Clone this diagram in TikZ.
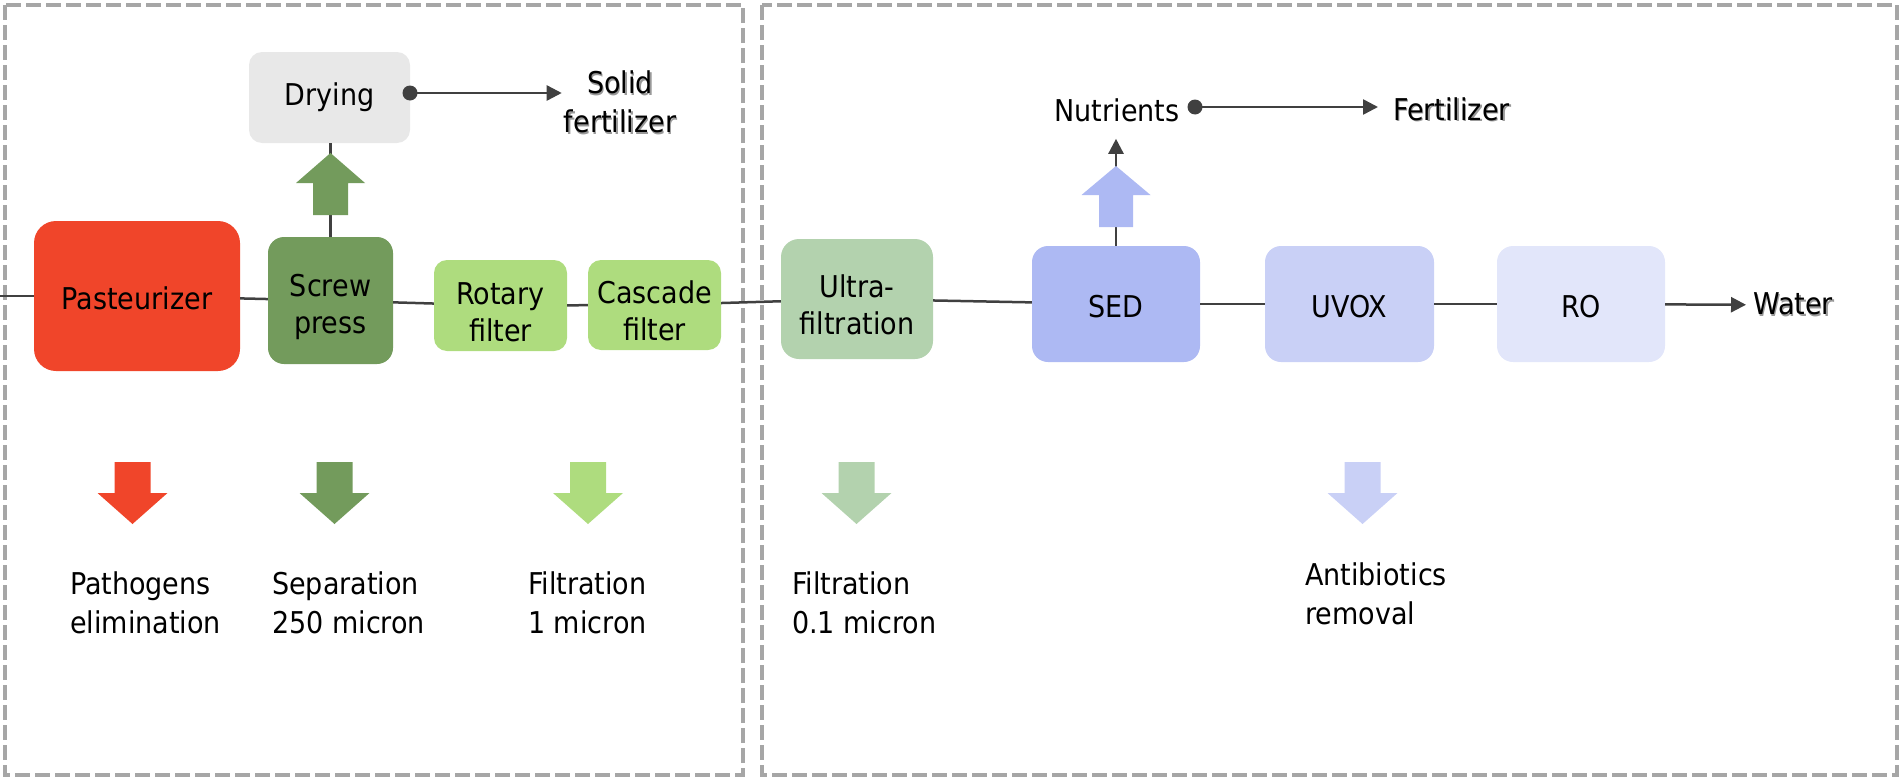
\documentclass[tikz,border=0pt]{standalone}
\usepackage{fontspec}
\setmainfont{DejaVu Sans Condensed}
\usetikzlibrary{arrows.meta}
\definecolor{cpast}{HTML}{F0452A}
\definecolor{cscrew}{HTML}{739B5C}
\definecolor{cfilt}{HTML}{AEDC7E}
\definecolor{cdry}{HTML}{E8E8E8}
\definecolor{cultra}{HTML}{B3D2AE}
\definecolor{csed}{HTML}{ADB9F3}
\definecolor{cuvox}{HTML}{C9D0F6}
\definecolor{cro}{HTML}{E2E6FA}
\definecolor{cframe}{HTML}{A6A6A6}
\definecolor{cline}{HTML}{404040}
\newcommand\shd[1]{\rlap{\kern1.5pt\raisebox{-1.5pt}{\color{black!40}#1}}#1}
\newcommand\tstrut{\rule{0pt}{35pt}}
\newcommand\blkdown[2]{%
  \fill[#2] ({#1-18},462) -- ({#1+18},462) -- ({#1+18},493) -- ({#1+35},493)
    -- (#1,524) -- ({#1-35},493) -- ({#1-18},493) -- cycle;}
\tikzset{
  box/.style={rounded corners=13pt, align=center, inner sep=0pt,
    font=\fontsize{30}{37}\selectfont},
  one/.style={execute at begin node={\rule{0pt}{27pt}}},
  lbl/.style={align=left, inner sep=0pt, font=\fontsize{30}{39}\selectfont},
  frame/.style={draw=cframe, line width=4pt, dash pattern=on 15pt off 5pt},
  conn/.style={draw=cline, line width=2.5pt},
  tip/.style={-{Triangle[length=15pt,width=15pt]}},
}
\begin{document}
\begin{tikzpicture}[x=1pt,y=-1pt]
\useasboundingbox (0,0) rectangle (1903,779);
\draw[frame] (5,5) rectangle (743,775);
\draw[frame] (762,5) rectangle (1897,775);

% process boxes
\node[box, one, fill=cpast, minimum width=206pt, minimum height=150pt, rounded corners=22pt] (past) at (137,296) {Pasteurizer};
\node[box, fill=cscrew, minimum width=125pt, minimum height=127pt, rounded corners=16pt] (screw) at (330.5,300.5) {\tstrut Screw\\press};
\node[box, fill=cfilt, minimum width=133pt, minimum height=91pt] (rot) at (500.5,305.5) {\tstrut Rotary\\filter};
\node[box, fill=cfilt, minimum width=133pt, minimum height=90pt] (casc) at (654.5,305) {\tstrut Cascade\\filter};
\node[box, fill=cdry, minimum width=161pt, minimum height=91pt] (dry) at (329.5,97.5) {Drying};
\node[box, fill=cultra, minimum width=152pt, minimum height=120pt, rounded corners=18pt] (ultra) at (857,299) {\tstrut Ultra-\\filtration};
\node[box, one, fill=csed, minimum width=168pt, minimum height=116pt, rounded corners=16pt] (sed) at (1116,304) {SED};
\node[box, one, fill=cuvox, minimum width=169pt, minimum height=116pt, rounded corners=16pt] (uvox) at (1349.5,304) {UVOX};
\node[box, one, fill=cro, minimum width=168pt, minimum height=116pt, rounded corners=16pt] (ro) at (1581,304) {RO};

% output labels
\node[lbl, align=center, inner sep=2pt] (solid) at (620,103) {\shd{Solid}\\\shd{fertilizer}};
\node[lbl] (nutr) at (1117,110) {Nutrients};
\node[lbl, anchor=west] (fert) at (1393,110) {\shd{Fertilizer}};
\node[lbl, anchor=west] (water) at (1753,305) {\shd{Water}};

% main line
\coordinate (in) at (0,296);
\draw[conn] (in) -- (past);
\draw[conn] (past) -- (screw);
\draw[conn] (screw) -- (rot);
\draw[conn] (rot) -- (casc);
\draw[conn] (casc) -- (ultra);
\draw[conn] (ultra) -- (sed);
\draw[conn] (sed) -- (uvox);
\draw[conn] (uvox) -- (ro);
\draw[conn, tip, shorten >=7pt] (ro) -- (water);

% drying branch
\draw[conn] (screw.north) -- (screw.north |- dry.south);
\fill[cscrew] (313,215) -- (348,215) -- (348,183) -- (365,183) -- (330.5,153) -- (296,183) -- (313,183) -- cycle;
\coordinate (dd) at (410,93);
\fill[cline] (dd) circle (7.5pt);
\draw[conn, tip] (dd) -- (dd -| solid.west);

% nutrient branch
\draw[conn, tip, shorten >=17pt] (sed.north) -- (sed.north |- nutr.south);
\fill[csed] (1099,227) -- (1133,227) -- (1133,195) -- (1150.5,195) -- (1116,166) -- (1081.5,195) -- (1099,195) -- cycle;
\coordinate (nd) at (1195,107);
\fill[cline] (nd) circle (7.5pt);
\draw[conn, tip, shorten >=15pt] (nd) -- (nd -| fert.west);

% effect arrows
\blkdown{132.5}{cpast}
\blkdown{334.5}{cscrew}
\blkdown{588}{cfilt}
\blkdown{856.5}{cultra}
\blkdown{1362.5}{cuvox}

% effect labels
\node[lbl, anchor=west] (l1) at (70,602.5) {Pathogens\\elimination};
\node[lbl, anchor=west] (l2) at (272,602.5) {Separation\\250 micron};
\node[lbl, anchor=west] (l3) at (528,602.5) {Filtration\\1 micron};
\node[lbl, anchor=west] (l4) at (792,602.5) {Filtration\\0.1 micron};
\node[lbl, anchor=west] (l5) at (1305,593.5) {Antibiotics\\removal};
\end{tikzpicture}
\end{document}
